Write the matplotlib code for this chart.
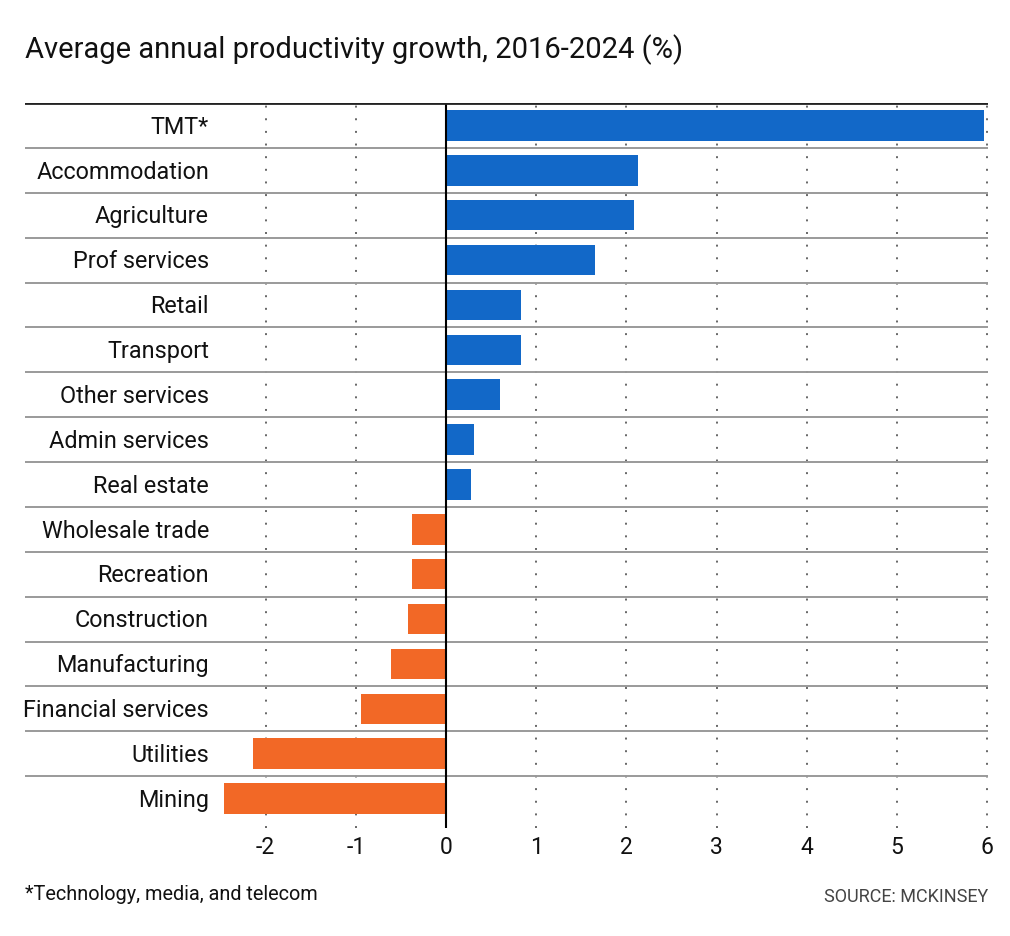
import matplotlib
matplotlib.use("Agg")
import matplotlib.pyplot as plt

# values (%)
sectors = ["TMT*", "Accommodation", "Agriculture", "Prof services", "Retail",
           "Transport", "Other services", "Admin services", "Real estate",
           "Wholesale trade", "Recreation", "Construction", "Manufacturing",
           "Financial services", "Utilities", "Mining"]
growth = [5.96, 2.13, 2.08, 1.65, 0.83, 0.83, 0.60, 0.31, 0.28,
          -0.38, -0.38, -0.42, -0.61, -0.94, -2.14, -2.46]
xticks = [-2, -1, 0, 1, 2, 3, 4, 5, 6]

BLUE = "#1268c8"
ORANGE = "#f26826"
plt.rcParams['font.family'] = ['Roboto', 'DejaVu Sans']

W, H = 1010, 936
fig = plt.figure(figsize=(W / 100, H / 100), dpi=100)
# axes spans the full row width (x=25..988 px), top line at y=103
left, right, top, bottom = 25, 988, 103, 828
ax = fig.add_axes([left / W, 1 - bottom / H, (right - left) / W, (bottom - top) / H])

px_per_unit = 90.2
x0 = 446
ax.set_xlim((left - x0) / px_per_unit, (right - x0) / px_per_unit)
n = len(sectors)
last_row = 821
row_px = (last_row - top) / n
ax.set_ylim(n - 0.5 + (bottom - last_row) / row_px, -0.5)

ypos = list(range(n))
colors = [BLUE if v >= 0 else ORANGE for v in growth]
ax.barh(ypos, growth, height=0.68, color=colors, zorder=2)

# dotted gridlines
for t in xticks:
    if t == 0:
        continue
    ax.axvline(t, color="#666666", lw=1.4, ls=(0, (1, 5.5)), zorder=1)
ax.axvline(0, color="black", lw=1.5, zorder=3)

# row separators
for i in range(1, n):
    ax.axhline(i - 0.5, color="#9a9a9a", lw=1.4, zorder=1.5)
ax.axhline(-0.5, color="#222222", lw=2, zorder=4)

# category labels
for y, s in zip(ypos, sectors):
    ax.text((209 - x0) / px_per_unit, y + 0.04, s, ha="right", va="center",
            fontsize=16.8, color="#111111")

for sp in ax.spines.values():
    sp.set_visible(False)
ax.set_yticks([])
ax.set_xticks(xticks)
ax.set_xticklabels([str(t) for t in xticks], fontsize=16.5, color="#111111")
ax.tick_params(axis="x", length=0, pad=6)

fig.text(25 / W, 1 - 50 / H, "Average annual productivity growth, 2016-2024 (%)",
         fontsize=21, color="#111111", va="center", ha="left")
fig.text(25 / W, 1 - 895 / H, "*Technology, media, and telecom",
         fontsize=14.3, color="#111111", va="center", ha="left")
fig.text(988 / W, 1 - 897 / H, "SOURCE: MCKINSEY",
         fontsize=13, color="#444444", va="center", ha="right")

fig.savefig("out.png", dpi=100, facecolor="white")
